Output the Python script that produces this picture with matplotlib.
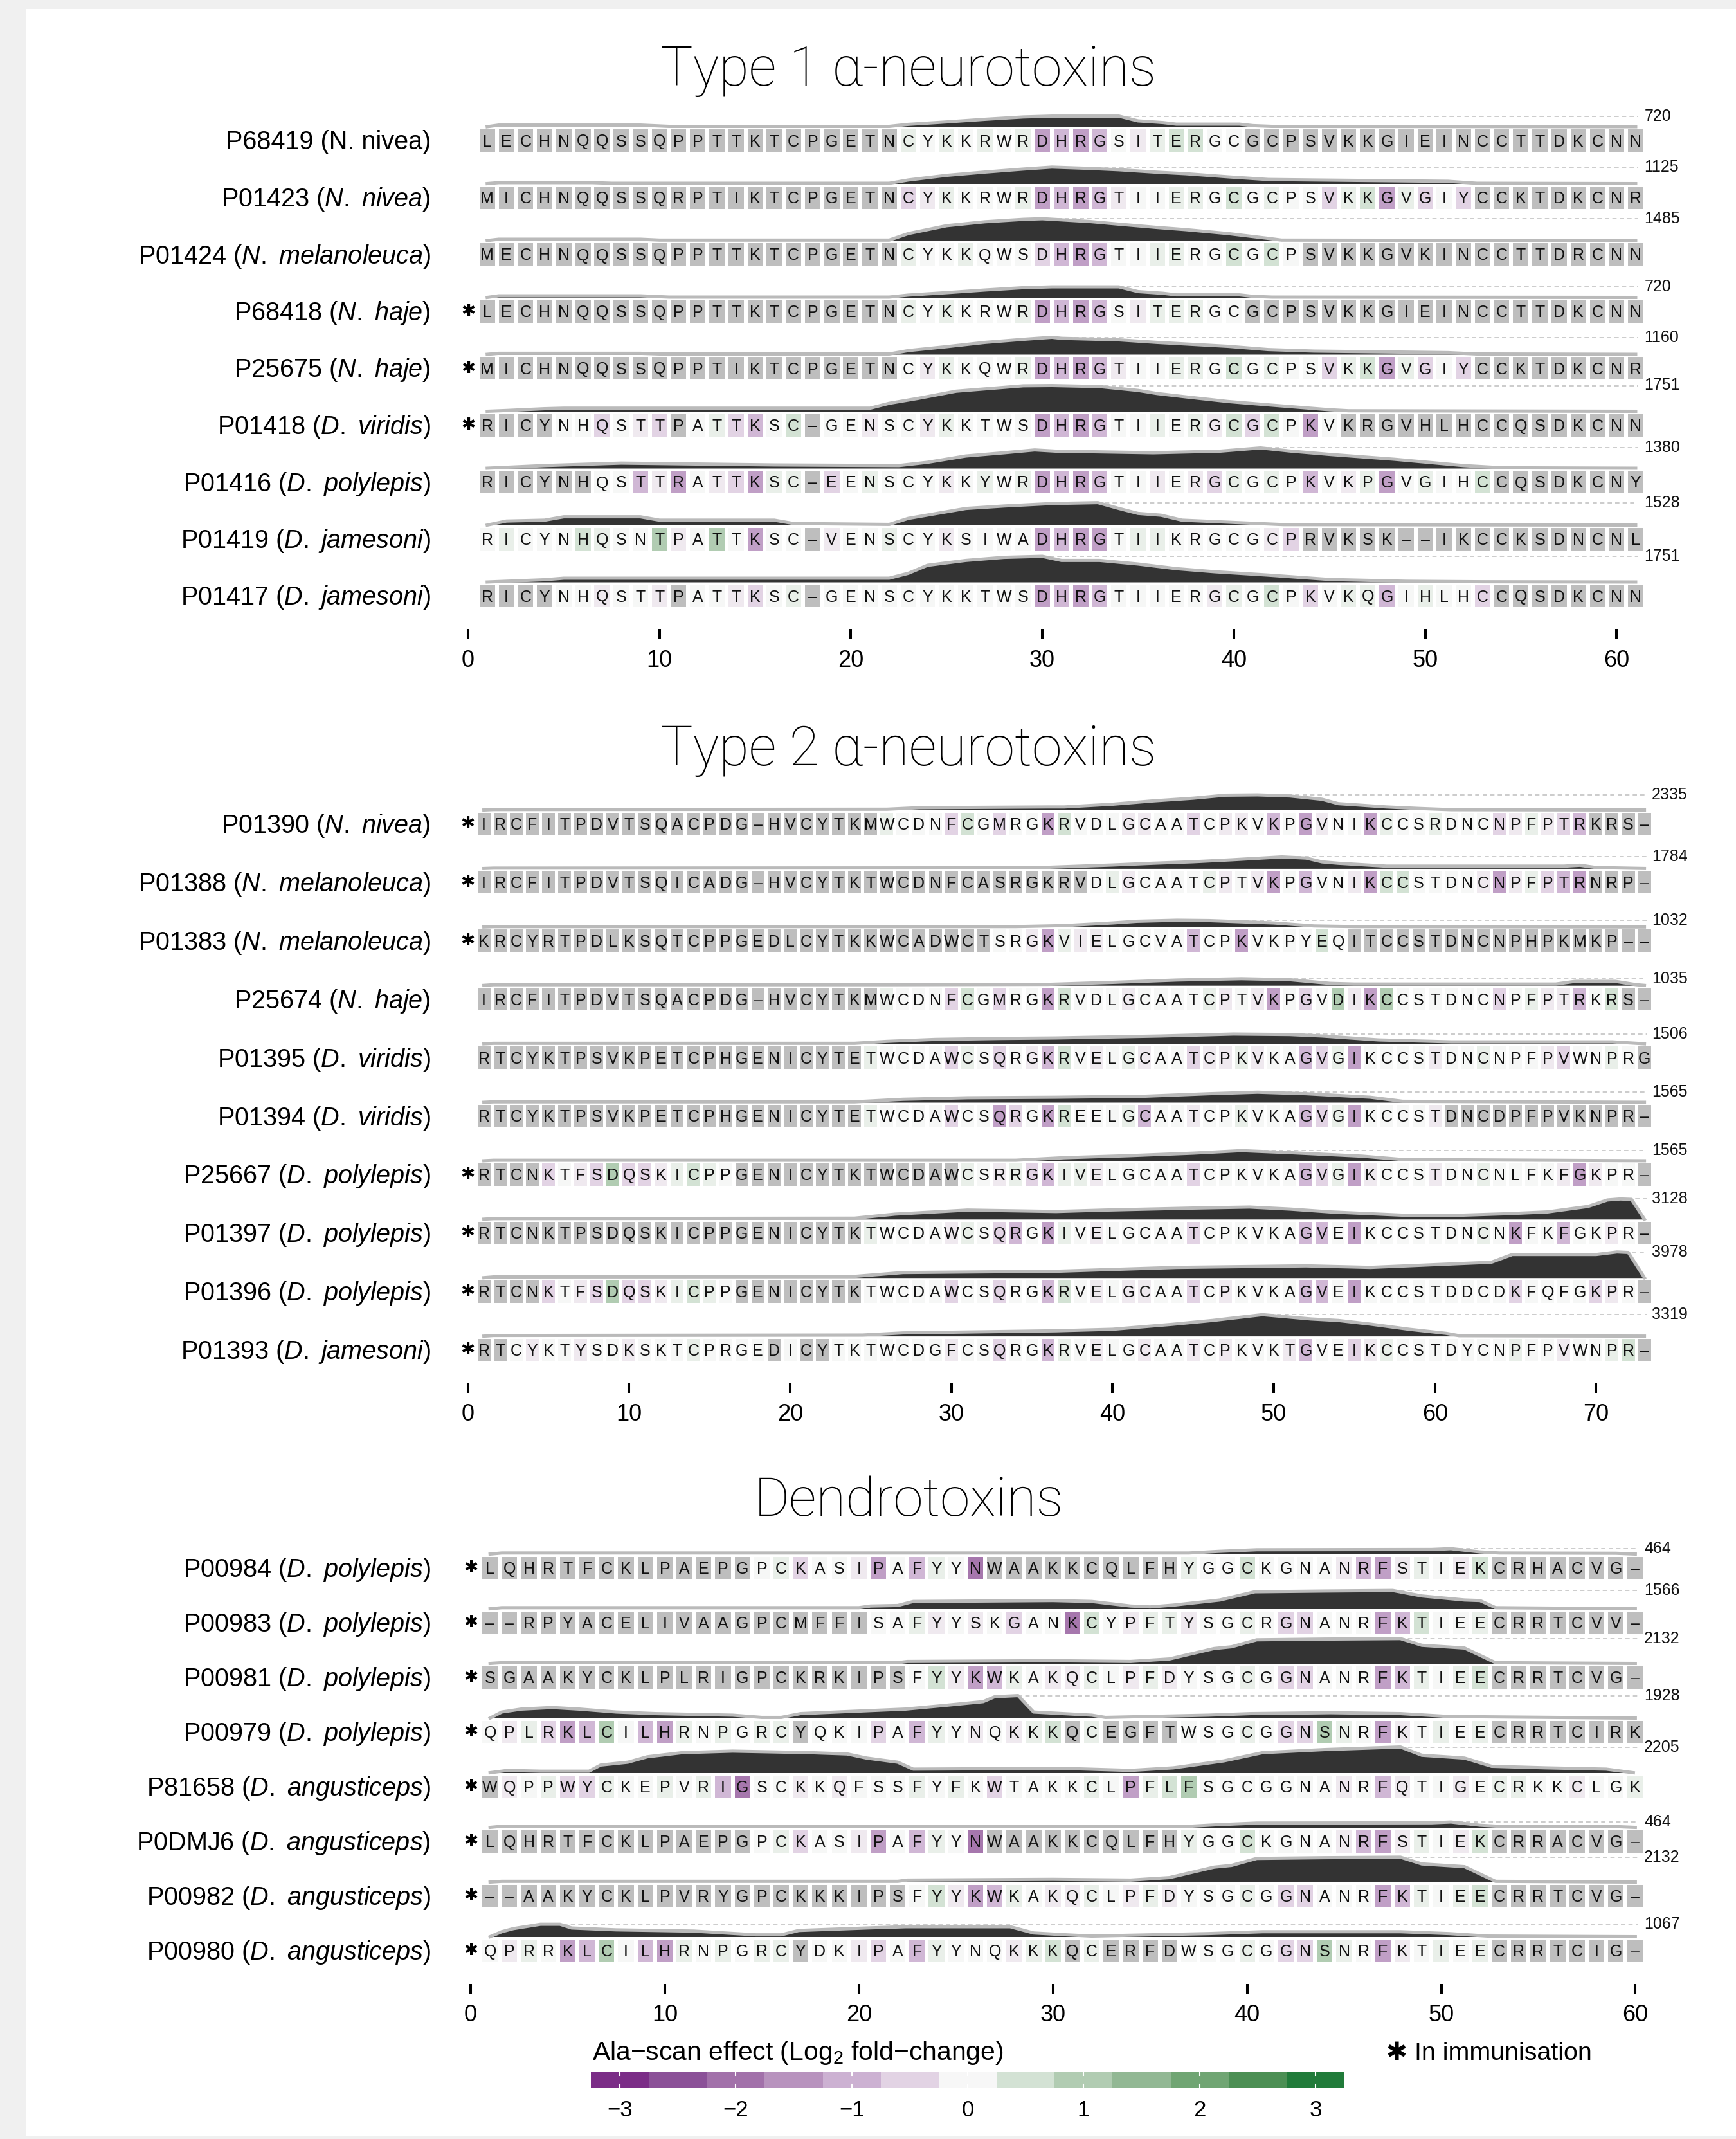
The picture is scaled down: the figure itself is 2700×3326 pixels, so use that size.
import numpy as np
import matplotlib
matplotlib.use('Agg')
import matplotlib.pyplot as plt
from matplotlib import font_manager
from matplotlib.colors import LinearSegmentedColormap, Normalize
from matplotlib.patches import Rectangle

# ---------------- data ----------------
# effect codes : '.' not tested (grey), '0' no effect, a..e loss (purple), A..D gain (green)
CODE = {'.': np.nan, '0': 0.0, 'a': -0.2, 'b': -0.5, 'c': -0.9, 'd': -1.3, 'e': -1.9,
        'A': 0.2, 'B': 0.5, 'C': 1.0, 'D': 1.5}

# Type 1 alpha-neurotoxins
T1_IDS = ['P68419', 'P01423', 'P01424', 'P68418', 'P25675', 'P01418', 'P01416', 'P01419', 'P01417']
T1_SPECIES = ['N. nivea', 'N. nivea', 'N. melanoleuca', 'N. haje', 'N. haje', 'D. viridis',
              'D. polylepis', 'D. jamesoni', 'D. jamesoni']
T1_ITALIC = [False, True, True, True, True, True, True, True, True]
T1_IMMUN = [0, 0, 0, 1, 1, 1, 0, 0, 0]
T1_MAX = [720, 1125, 1485, 720, 1160, 1751, 1380, 1528, 1751]
T1_SEQ = [
    'LECHNQQSSQPPTTKTCPGETNCYKKRWRDHRGSITERGCGCPSVKKGIEINCCTTDKCNN',
    'MICHNQQSSQRPTIKTCPGETNCYKKRWRDHRGTIIERGCGCPSVKKGVGIYCCKTDKCNR',
    'MECHNQQSSQPPTTKTCPGETNCYKKQWSDHRGTIIERGCGCPSVKKGVKINCCTTDRCNN',
    'LECHNQQSSQPPTTKTCPGETNCYKKRWRDHRGSITERGCGCPSVKKGIEINCCTTDKCNN',
    'MICHNQQSSQPPTIKTCPGETNCYKKQWRDHRGTIIERGCGCPSVKKGVGIYCCKTDKCNR',
    'RICYNHQSTTPATTKSC-GENSCYKKTWSDHRGTIIERGCGCPKVKRGVHLHCCQSDKCNN',
    'RICYNHQSTTRATTKSC-EENSCYKKYWRDHRGTIIERGCGCPKVKPGVGIHCCQSDKCNY',
    'RICYNHQSNTPATTKSC-VENSCYKSIWADHRGTIIKRGCGCPRVKSK--IKCCKSDNCNL',
    'RICYNHQSTTPATTKSC-GENSCYKKTWSDHRGTIIERGCGCPKVKQGIHLHCCQSDKCNN',
]
T1_EFFECT = [
    '.' * 22 + 'A0A0A0A' + 'dcdc' + '0aABB00' + '.' * 21,
    '.' * 22 + 'baA000Adcdca00AA0B0A00bABdAb0b' + '.' * 9,
    '.' * 22 + 'A00A000bcdc00AA00B0B0' + '.' * 18,
    '.' * 22 + 'A0A000A' + 'dcdc' + '0aAAA00' + '.' * 21,
    '.' * 22 + '0aA000Adcdca00AA0B0A00bABdAb0b' + '.' * 9,
    '....00b0ab' + '.0Abc0B.00' + 'a00aA0000d' + 'cdc00A0AaB' + 'bB0d0' + '.' * 16,
    '......00ca' + 'd0abdAA.b0' + 'A000a0A0Ad' + 'cdc00a0abA' + '0A0c0aAd0A' + '00B' + '.' * 8,
    '0A000BA00C' + 'a0C0d00.a0' + '0A00a0000d' + 'cdd0AA0000' + '0ab' + '.' * 18,
    '....00a00a' + '.00ab0A.00' + '000000000d' + 'cdc00000aA' + '0B0b0AAc0A' + '00b' + '.' * 8,
]
# epitope profiles: (position, fraction of the row maximum)
T1_PROFILE = [
    [(1, 0), (1.6, .15), (9, .15), (10.5, .03), (22, .03), (23, .22), (25, .45), (27, .7), (29, .92),
     (30.5, 1), (34, 1), (35, .55), (36.3, .39), (37, .24), (40.3, .24), (41, .1), (42, .03), (61, 0)],
    [(1, 0), (1.6, .06), (6.5, .06), (7.5, .02), (22, .02), (23, .22), (25, .5), (27, .7), (29, .88),
     (30.5, 1), (32.5, .92), (34, .84), (36, .69), (37.5, .6), (39.7, .41), (41.8, .25), (44.2, .22),
     (51.2, .14), (52.7, .02), (61, 0)],
    [(1, 0), (1.6, .06), (9, .06), (10, .02), (22, .02), (23, .32), (25, .68), (27, .86), (29, .97),
     (30, 1), (32.5, .87), (34, .75), (36, .6), (37.5, .5), (39.7, .32), (41.8, .1), (42.5, .02), (61, 0)],
    [(1, 0), (1.6, .15), (9, .15), (10.5, .03), (22, .03), (23, .22), (25, .45), (27, .7), (29, .92),
     (30.5, 1), (34, 1), (35, .55), (36.3, .39), (37, .24), (40.3, .24), (41, .1), (42, .03), (61, 0)],
    [(1, 0), (1.6, .06), (9, .06), (10, .02), (22, .02), (23, .22), (25, .45), (27, .7), (29, .88),
     (30.5, 1), (31, .94), (34, .85), (36, .7), (39.7, .47), (41.8, .28), (44.2, .19), (51.2, .1),
     (52.7, .02), (61, 0)],
    [(1, 0), (2, .03), (4, .1), (5, .12), (21, .12), (22, .31), (23.5, .5), (25.5, .78), (27.5, .9),
     (29, .99), (30.5, 1), (33, .96), (35, .81), (36, .69), (37.5, .56), (39.7, .38), (41.8, .25),
     (45, .06), (46, .02), (61, 0)],
    [(1, 0), (4, .13), (8, .25), (16, .16), (22.5, .13), (24, .29), (26, .6), (28, .76), (29.6, .9),
     (30.7, .84), (35.8, .76), (39.3, .84), (41.4, 1), (43, .84), (45, .68), (48.4, .44), (51.2, .2),
     (52, .13), (54, .02), (61, 0)],
    [(1, 0), (2, .18), (4, .22), (5, .37), (9, .37), (10, .22), (16, .22), (17, .07), (22, .03), (23, .3),
     (24.5, .52), (26, .74), (28, .85), (30.5, .96), (32.9, 1), (34, .74), (35, .52), (36.2, .44),
     (37.3, .22), (42.6, .02), (61, 0)],
    [(1, 0), (4, .09), (5, .15), (22, .15), (23, .34), (24, .65), (26, .84), (28, .96), (30, 1), (31, .84),
     (33, .84), (35, .7), (37, .52), (39, .4), (41.8, .27), (45, .1), (49, .03), (53, .01), (61, 0)],
]

# Type 2 alpha-neurotoxins
T2_IDS = ['P01390', 'P01388', 'P01383', 'P25674', 'P01395', 'P01394', 'P25667', 'P01397', 'P01396', 'P01393']
T2_SPECIES = ['N. nivea', 'N. melanoleuca', 'N. melanoleuca', 'N. haje', 'D. viridis', 'D. viridis',
              'D. polylepis', 'D. polylepis', 'D. polylepis', 'D. jamesoni']
T2_ITALIC = [True] * 10
T2_IMMUN = [1, 1, 1, 0, 0, 0, 1, 1, 1, 1]
T2_MAX = [2335, 1784, 1032, 1035, 1506, 1565, 1565, 3128, 3978, 3319]
T2_SEQ = [
    'IRCFITPDVTSQACPDG-HVCYTKMWCDNFCGMRGKRVDLGCAATCPKVKPGVNIKCCSRDNCNPFPTRKRS-',
    'IRCFITPDVTSQICADG-HVCYTKTWCDNFCASRGKRVDLGCAATCPTVKPGVNIKCCSTDNCNPFPTRNRP-',
    'KRCYRTPDLKSQTCPPGEDLCYTKKWCADWCTSRGKVIELGCVATCPKVKPYEQITCCSTDNCNPHPKMKP--',
    'IRCFITPDVTSQACPDG-HVCYTKMWCDNFCGMRGKRVDLGCAATCPTVKPGVDIKCCSTDNCNPFPTRKRS-',
    'RTCYKTPSVKPETCPHGENICYTETWCDAWCSQRGKRVELGCAATCPKVKAGVGIKCCSTDNCNPFPVWNPRG',
    'RTCYKTPSVKPETCPHGENICYTETWCDAWCSQRGKREELGCAATCPKVKAGVGIKCCSTDNCDPFPVKNPR-',
    'RTCNKTFSDQSKICPPGENICYTKTWCDAWCSRRGKIVELGCAATCPKVKAGVGIKCCSTDNCNLFKFGKPR-',
    'RTCNKTPSDQSKICPPGENICYTKTWCDAWCSQRGKIVELGCAATCPKVKAGVEIKCCSTDNCNKFKFGKPR-',
    'RTCNKTFSDQSKICPPGENICYTKTWCDAWCSQRGKRVELGCAATCPKVKAGVEIKCCSTDDCDKFQFGKPR-',
    'RTCYKTYSDKSKTCPRGEDICYTKTWCDGFCSQRGKRVELGCAATCPKVKTGVEIKCCSTDYCNPFPVWNPR-',
]
T2_EFFECT = [
    '.' * 25 + 'A000bB0b00dB' + '000aa00b0aa0c0da00dA00A000baAabc' + '....',
    '.' * 38 + '0Aa0000Aa0ad0c00adBB0000adaAbcd' + '....',
    '.' * 32 + '00adA' + 'aa00000c00d0000B0' + '.' * 19,
    '.' * 25 + 'A000bB0b00dB' + '000a0000Aa0ad0b0CadC000000b0Aaac0B' + '..',
    '.' * 24 + 'A0000bA0b0acB' + '0a0Aa00baaAa00cbAd0000a00A000ab00A0' + '.',
    '.' * 24 + 'A0000b00db0dB' + '000Ac00a00A000cbAd0000a' + '.' * 13,
    '....b0abCb' + 'baABA0' + '.' * 14 + 'A0aAbcA' + 'Aa00000b000000cbAda000a00A0000ada00' + '.',
    '.' * 24 + 'A0000aA0bc0dA' + '0a00000b000000cc0d0000000A0d00c00a0' + '.',
    '....b0abCb' + 'baABA0' + '.' * 8 + '00000b00b00cB' + '0a0aa00b0a0000cc0d' + '000000000' + 'b0000ba0' + '.',
    '..0a00a00a' + '000A0000.0' + '..0000000a' + '00b00cA' + '0a00a00a0a000ac00baA' + '0000000' + 'A00a00AB' + '.',
]
T2_PROFILE = [
    [(1, 0), (1.6, .03), (26, .05), (28, .15), (36, .2), (37, .2), (40, .38), (42.5, .6), (45, .78),
     (47, .98), (49, 1), (51, .93), (53, .71), (54, .42), (57, .2), (59, .1), (61, .02), (73, 0)],
    [(1, 0), (1.6, .03), (30, .05), (36, .1), (40, .3), (42.5, .45), (45, .58), (47.4, .75), (50.5, 1),
     (52, .9), (53, .57), (54, .45), (57, .2), (68, .2), (69, .28), (70, .08), (73, 0)],
    [(1, 0), (1.6, .05), (34, .05), (37, .2), (40, .6), (41.5, .85), (44, 1), (46, .95), (50, .6),
     (52.5, .15), (55, .05), (73, 0)],
    [(1, 0), (1.6, .1), (26, .1), (36, .15), (40, .45), (44, .8), (48, 1), (51, .85), (53.5, .3), (55, .2),
     (67.5, .2), (68.7, .6), (71.2, .6), (72.5, .1), (73, 0)],
    [(1, 0), (1.6, .05), (24, .05), (26, .25), (29, .45), (33, .55), (36.5, .6), (43, .8), (47.5, 1),
     (51, .95), (53, .8), (56.5, .4), (61, .2), (71, .2), (73, 0)],
    [(1, 0), (1.6, .05), (24, .05), (27, .3), (31, .45), (36.5, .5), (42, .6), (46, .85), (49, 1),
     (52, .85), (56, .5), (58, .1), (73, 0)],
    [(1, 0), (1.6, .05), (34, .05), (37, .3), (41, .5), (45, .75), (48, 1), (51, .8), (55.5, .45),
     (58, .12), (73, 0)],
    [(1, 0), (1.6, .03), (24, .05), (26.5, .25), (31, .45), (36.5, .38), (39.5, .45), (45, .55),
     (48.5, .6), (51, .5), (53.5, .36), (58.5, .18), (61, .18), (64.5, .27), (67, .36), (69.5, .63),
     (70.7, .95), (71.5, 1), (72.2, .98), (73, 0)],
    [(1, 0), (1.6, .03), (24, .05), (27, .2), (36.5, .25), (44, .4), (52, .46), (56, .4), (63.5, .6),
     (64.8, .9), (70, .9), (71.3, 1), (72, .98), (73, 0)],
    [(1, 0), (1.6, .03), (24.5, .05), (27, .15), (36.5, .25), (40, .32), (43.7, .55), (46.2, .73),
     (49.3, 1), (52.3, .8), (54, .73), (56, .56), (58.4, .32), (60.7, .13), (61.5, .02), (73, 0)],
]

# Dendrotoxins
T3_IDS = ['P00984', 'P00983', 'P00981', 'P00979', 'P81658', 'P0DMJ6', 'P00982', 'P00980']
T3_SPECIES = ['D. polylepis'] * 4 + ['D. angusticeps'] * 4
T3_ITALIC = [True] * 8
T3_IMMUN = [1] * 8
T3_MAX = [464, 1566, 2132, 1928, 2205, 464, 2132, 1067]
T3_SEQ = [
    'LQHRTFCKLPAEPGPCKASIPAFYYNWAAKKCQLFHYGGCKGNANRFSTIEKCRHACVG-',
    '--RPYACELIVAAGPCMFFISAFYYSKGANKCYPFTYSGCRGNANRFKTIEECRRTCVV-',
    'SGAAKYCKLPLRIGPCKRKIPSFYYKWKAKQCLPFDYSGCGGNANRFKTIEECRRTCVG-',
    'QPLRKLCILHRNPGRCYQKIPAFYYNQKKKQCEGFTWSGCGGNSNRFKTIEECRRTCIRK',
    'WQPPWYCKEPVRIGSCKKQFSSFYFKWTAKKCLPFLFSGCGGNANRFQTIGECRKKCLGK',
    'LQHRTFCKLPAEPGPCKASIPAFYYNWAAKKCQLFHYGGCKGNANRFSTIEKCRRACVG-',
    '--AAKYCKLPVRYGPCKKKIPSFYYKWKAKQCLPFDYSGCGGNANRFKTIEECRRTCVG-',
    'QPRRKLCILHRNPGRCYDKIPAFYYNQKKKQCERFDWSGCGGNSNRFKTIEECRRTCIG-',
]
T3_EFFECT = [
    '.' * 14 + '0Ab00ad0cA0e' + '.' * 10 + 'A00B0000acdaA0aB' + '.' * 8,
    '.' * 20 + '00Aa0a0b00' + 'eB0aAAa00A0bb000dcB00A' + '.' * 8,
    '.' * 22 + '0BadcA0a' + 'aA0aAa000A0bb000dcA0AB' + '.' * 8,
    '0aAbdcC0cd' + 'A0A0AA.000' + 'b0cA0a0aAB' + '.A....000A' + '0bbCA0da0A' + '0A' + '.' * 8,
    '.a0AbbA00A' + '0Ace00a0a0' + '00A0A0b000' + '0A0dABC000' + '0000a0ca00' + 'a0AA00a00A',
    '.' * 14 + '0Ab00ad0cA0e' + '.' * 10 + 'A00B0000acdaA0aB' + '.' * 8,
    '.' * 22 + '0BadcA0a' + 'aA0aAa000A0bb000dcA0AB' + '.' * 8,
    '0aA0dcC0cd' + 'A0A0AA.00a' + 'b0cA000aAB' + '.A....000A' + '0bbCA0da0A' + '0A' + '.' * 8,
]
T3_PROFILE = [
    [(1, 0), (1.6, .2), (37, .2), (38.5, .5), (40.5, .8), (49.5, .85), (50.5, 1), (52, .4), (53, .2),
     (59, .15), (60, 0)],
    [(1, 0), (1.6, .06), (20, .06), (20.6, .15), (22, .18), (22.8, .4), (30, .45), (32, .4), (34, .15),
     (35, .1), (36.2, .2), (38.6, .48), (40.4, .93), (44, .97), (47.5, 1), (49, .7), (51.2, .48),
     (52, .45), (52.8, .06), (60, 0)],
    [(1, 0), (1.6, .03), (22, .03), (22.5, .08), (30, .11), (34, .08), (36, .18), (38.3, .6), (39.2, .67),
     (40.5, .95), (44, .98), (47.9, 1), (49, .73), (51.2, .62), (52.8, .03), (60, 0)],
    [(1, 0), (1.6, .27), (2.6, .4), (4.2, .47), (5.6, .4), (7.5, .27), (9.5, .2), (13.5, .13), (15, .03),
     (16, .03), (17, .2), (19.4, .29), (22.4, .4), (24.4, .56), (26.4, .73), (27, .95), (28.2, 1),
     (29, .27), (30.5, .2), (32, .13), (32.7, .03), (38, .13), (40.2, .2), (44.3, .24), (47.9, .2),
     (50.4, .07), (60, 0)],
    [(1, 0), (1.9, .09), (3.6, .06), (6.1, .06), (6.7, .3), (8.1, .41), (9.1, .62), (10.9, .78),
     (13.5, .84), (17.5, .78), (19.4, .73), (20.4, .57), (22, .41), (22.8, .14), (30.5, .17), (34, .09),
     (36.2, .19), (38.8, .46), (40.8, .78), (44, .9), (47.9, 1), (49, .68), (51.2, .57), (52.6, .25),
     (55.4, .19), (58.5, .14), (59.9, 0)],
    [(1, 0), (1.6, .2), (37, .2), (38.5, .5), (40.5, .8), (49.5, .85), (50.5, 1), (52, .4), (53, .2),
     (59, .15), (60, 0)],
    [(1, 0), (1.6, .03), (22, .03), (22.5, .08), (30, .11), (34, .08), (36, .18), (38.3, .6), (39.2, .67),
     (40.5, .95), (44, .98), (47.9, 1), (49, .73), (51.2, .62), (52.8, .03), (60, 0)],
    [(1, 0), (1.6, .4), (2.2, .65), (3.6, 1), (4.6, 1), (5.2, .7), (7.5, .55), (11.5, .45), (14.7, .15),
     (16, .15), (16.9, .5), (20.4, .7), (22.4, .8), (27.8, .8), (29, .3), (30.7, .15), (32, .05),
     (38, .25), (40.8, .4), (47.9, .4), (50.4, .25), (52.4, .05), (60, 0)],
]

# legend colour bins (log2 fold-change)
LEGEND_BINS = [-3, -2.5, -2, -1.5, -1, -0.5, 0, 0.5, 1, 1.5, 2, 2.5, 3]
LEGEND_COLORS = ['#7b2d87', '#8b5198', '#a271aa', '#b893be', '#ccb1d2', '#e2d3e4', '#f7f7f7',
                 '#d3e2d4', '#b1ccb2', '#92b894', '#70a573', '#4c8f54', '#217b3a']
LEGEND_TICKS = [-3, -2, -1, 0, 1, 2, 3]

# ---------------- figure ----------------
names = {f.name for f in font_manager.fontManager.ttflist}
SANS = 'Liberation Sans'
NARROW = 'Liberation Sans Narrow' if 'Liberation Sans Narrow' in names else SANS
TITLE_FONT = 'Roboto' if 'Roboto' in names else SANS
plt.rcParams['font.family'] = [SANS, 'DejaVu Sans']
plt.rcParams['mathtext.fontset'] = 'custom'
plt.rcParams['mathtext.rm'] = SANS
plt.rcParams['mathtext.it'] = SANS + ':italic'

W, H = 2700, 3326
fig = plt.figure(figsize=(W / 100, H / 100), dpi=100)
fig.patch.set_facecolor('#f0f0f0')
# white sheet behind everything
fig.patches.append(Rectangle((41 / W, 4 / H), (W - 41) / W, (3322 - 14) / H,
                             transform=fig.transFigure, facecolor='white', edgecolor='none', zorder=-10))

cmap = LinearSegmentedColormap.from_list('ala', LEGEND_COLORS)
norm = Normalize(-3, 3)


def fit(txt, width_px):
    # rescale a text so that it takes the wanted width
    r = fig.canvas.get_renderer()
    w = txt.get_window_extent(r).width
    txt.set_fontsize(txt.get_fontsize() * width_px / w)


def draw_panel(title, title_w, title_y, ids, species, italic, immun, maxima, seqs, effects, profiles,
               origin, ppu, row0, step, last_tick):
    n = len(seqs)
    pmax = max(maxima)
    bottom_px = row0 + (n - 1) * step + 51.5
    top_px = row0 - 125
    ax = fig.add_axes([0, 1 - bottom_px / H, 1, (bottom_px - top_px) / H])
    ax.set_xlim(-origin / ppu, (W - origin) / ppu)
    ax.set_ylim((bottom_px - row0) / step, (top_px - row0) / step)
    ax.patch.set_visible(False)
    for s in ax.spines.values():
        s.set_visible(False)
    ax.set_yticks([])
    ax.set_xticks(np.arange(0, last_tick + 1, 10))
    ax.tick_params(axis='x', direction='out', length=10.8, width=2.9, labelsize=26, pad=12)

    ch = 35 / step
    lab_x = (670 - origin) / ppu
    for i in range(n):
        seq, eff = seqs[i], effects[i]
        assert len(seq) == len(eff), (ids[i], len(seq), len(eff))
        pos = np.arange(1, len(seq) + 1)
        vals = [CODE[c] for c in eff]
        cols = ['#bebebe' if np.isnan(v) else cmap(norm(v)) for v in vals]
        ax.bar(pos, ch, width=0.8, bottom=i - ch / 2, color=cols, lw=0, zorder=4)
        for p, aa in zip(pos, seq):
            ax.text(p, i + 9 / step, '–' if aa == '-' else aa, ha='center', va='baseline',
                    fontsize=18, color='#111111', zorder=5)

        # profile above the sequence
        xs = np.array([k[0] for k in profiles[i]])
        fr = np.array([k[1] for k in profiles[i]])
        base = i - ch / 2 - 4 / step
        top = base - fr * maxima[i] / pmax * 40 / step
        ax.fill_between(xs, base, top, color='#333333', lw=0, zorder=2)
        ax.plot(xs, top, color='#bababa', lw=3.6, zorder=3)
        k = np.argmax(fr)
        ax.plot([xs[k], len(seq) + 0.15], [top[k], top[k]], color='#c4c4c4', lw=1.2,
                ls=(0, (4, 3)), zorder=1)
        ax.text(len(seq) + 0.45, top[k], str(maxima[i]), fontsize=18, ha='left', va='center',
                color='#111111')

        if immun[i]:
            ax.text(0, i, '✱', family='DejaVu Sans', fontsize=19, ha='center', va='center')
        if italic[i]:
            lab = ids[i] + r' ($\mathit{' + species[i].replace(' ', r'\ ') + '}$)'
        else:
            lab = f'{ids[i]} ({species[i]})'
        ax.text(lab_x, i + 14 / step, lab, ha='right', va='baseline', fontsize=28.5)

    t = fig.text(1413 / W, 1 - title_y / H, title, ha='center', va='baseline', fontsize=60,
                 family=TITLE_FONT, fontweight='light')
    fit(t, title_w)


draw_panel('Type 1 α-neurotoxins', 772, 133, T1_IDS, T1_SPECIES, T1_ITALIC, T1_IMMUN, T1_MAX,
           T1_SEQ, T1_EFFECT, T1_PROFILE, 728, 29.77, 218.5, 88.5, 60)
draw_panel('Type 2 α-neurotoxins', 772, 1190, T2_IDS, T2_SPECIES, T2_ITALIC, T2_IMMUN, T2_MAX,
           T2_SEQ, T2_EFFECT, T2_PROFILE, 727.5, 25.07, 1281, 90.9, 70)
draw_panel('Dendrotoxins', 482, 2357, T3_IDS, T3_SPECIES, T3_ITALIC, T3_IMMUN, T3_MAX,
           T3_SEQ, T3_EFFECT, T3_PROFILE, 732, 30.19, 2438, 85.0, 60)

# ---------------- legend ----------------
lax = fig.add_axes([919 / W, 1 - 3246 / H, 1172 / W, 24 / H])
lax.bar(LEGEND_BINS, 1, width=0.5, color=LEGEND_COLORS, lw=0)
for tk in LEGEND_TICKS:
    lax.plot([tk, tk], [0, 0.2], color='white', lw=1.5)
    lax.plot([tk, tk], [0.8, 1], color='white', lw=1.5)
lax.set_xlim(-3.25, 3.25)
lax.set_ylim(0, 1)
lax.set_yticks([])
lax.set_xticks(LEGEND_TICKS)
lax.set_xticklabels([str(t).replace('-', '−') for t in LEGEND_TICKS], family=NARROW)
lax.tick_params(axis='x', length=0, pad=14, labelsize=25)
for s in lax.spines.values():
    s.set_visible(False)

lt = fig.text(921 / W, 1 - 3203 / H, r'Ala−scan effect (Log$_2$ fold−change)', ha='left',
              va='baseline', fontsize=28, family=NARROW)
fit(lt, 640)
it = fig.text(2156 / W, 1 - 3203 / H, '✱ In immunisation', ha='left', va='baseline', fontsize=28,
              family=[NARROW, 'DejaVu Sans'])
fit(it, 320)

fig.savefig('out.png', dpi=100, facecolor=fig.get_facecolor())
